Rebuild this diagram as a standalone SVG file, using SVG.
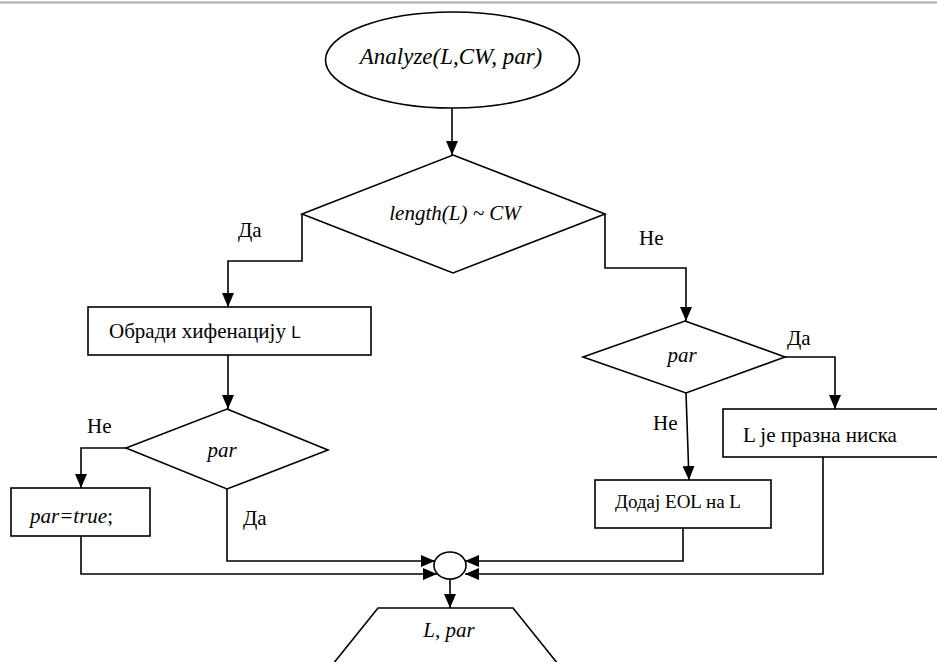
<svg xmlns="http://www.w3.org/2000/svg" width="937" height="662" viewBox="0 0 937 662">
<defs>
<marker id="ah" viewBox="0 0 14 12" refX="14" refY="6" markerWidth="14" markerHeight="12" markerUnits="userSpaceOnUse" orient="auto">
<path d="M0,0 L14,6 L0,12 Z" fill="#000"/>
</marker>
</defs>
<style>
.s{fill:#fff;stroke:#000;stroke-width:1.6}
.c{fill:none;stroke:#000;stroke-width:1.6;marker-end:url(#ah)}
.t{font-family:'Liberation Serif','DejaVu Serif',serif;font-size:21px;fill:#000}
.i{font-style:italic}
.big{font-size:23px}
.sm{font-size:19px}
.sans{font-family:'Liberation Sans',Arial,sans-serif;font-size:17px}
</style>
<rect width="937" height="662" fill="#fff"/>
<line x1="0" y1="2.5" x2="937" y2="2.5" stroke="#aaa" stroke-width="2"/>
<g id="connectors">
<path class="c" d="M452,108 V155"/>
<path class="c" d="M302,214 V261 H228 V307"/>
<path class="c" d="M605,214 V268 H686 V321"/>
<path class="c" d="M228,355 V409"/>
<path class="c" d="M126,448 H81 V488"/>
<path class="c" d="M785,357 H835 V409"/>
<path class="c" d="M686,393 L689,480"/>
<path class="c" d="M227,489 V561 H435"/>
<path class="c" d="M81,536 V574 H437"/>
<path class="c" d="M683,528 V561 H465"/>
<path class="c" d="M823,457 V574 H465"/>
<path class="c" d="M450,579 V608"/>
<text class="t" x="238" y="237">Да</text>
<text class="t" x="639" y="245">Не</text>
<text class="t" x="87" y="433">Не</text>
<text class="t" x="243" y="525">Да</text>
<text class="t" x="787" y="345">Да</text>
<text class="t" x="653" y="430">Не</text>
</g>
<g id="start">
<ellipse class="s" cx="452.5" cy="60" rx="127" ry="48"/>
<text class="t i big" x="451" y="64" text-anchor="middle">Analyze(L,CW, par)</text>
</g>
<g id="cond1">
<polygon class="s" points="453,155 605,214 453,273 302,214"/>
<text class="t i" x="455" y="220" text-anchor="middle">length(L) ~ CW</text>
</g>
<g id="hyph">
<rect class="s" x="88" y="307" width="283" height="48"/>
<text class="t" x="109" y="338">Обради хифенацију <tspan class="sans">L</tspan></text>
</g>
<g id="par1">
<polygon class="s" points="227,409 328,450 227,489 126,448"/>
<text class="t i" x="222" y="457" text-anchor="middle">par</text>
</g>
<g id="settrue">
<rect class="s" x="11" y="488" width="139" height="48"/>
<text class="t" x="30" y="523"><tspan class="i">par=true</tspan>;</text>
</g>
<g id="par2">
<polygon class="s" points="685,321 785,357 686,393 583,357"/>
<text class="t i" x="682" y="362" text-anchor="middle">par</text>
</g>
<g id="empty">
<rect class="s" x="723" y="409" width="230" height="48"/>
<text class="t" x="743" y="442">L је празна ниска</text>
</g>
<g id="addeol">
<rect class="s" x="595" y="480" width="176" height="48"/>
<text class="t sm" x="615" y="508">Додај EOL на L</text>
</g>
<g id="join">
<ellipse class="s" cx="450" cy="565.5" rx="16" ry="13.5"/>
</g>
<g id="output">
<path class="s" d="M333,664 L378,608 H513 L558,664"/>
<text class="t i" x="449" y="637" text-anchor="middle">L, par</text>
</g>
</svg>
